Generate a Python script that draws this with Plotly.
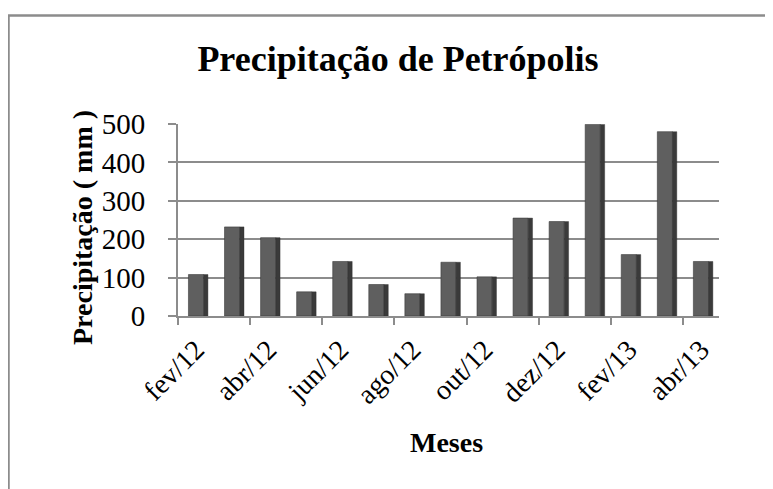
import plotly.graph_objects as go

months = ["fev/12", "mar/12", "abr/12", "mai/12", "jun/12", "jul/12", "ago/12", "set/12",
          "out/12", "nov/12", "dez/12", "jan/13", "fev/13", "mar/13", "abr/13"]
precip = [108, 232, 204, 63, 142, 82, 58, 140, 102, 255, 246, 499, 160, 480, 142]
tick_labels = months[::2]
y_ticks = [0, 100, 200, 300, 400, 500]

OFF = 8  # default page body margin
W, H = 773 - OFF, 489 - OFF
# plot area in screen pixels
L, R, T, B = 178 - OFF, 719 - OFF, 124 - OFF, 316 - OFF

def px_x(p):
    return (p - OFF - L) / (R - L)

def px_y(p):
    return (B - (p - OFF)) / (B - T)

SERIF = "Liberation Serif"
GRID = "#8c8c8c"

fig = go.Figure()
fig.add_trace(go.Bar(x=months, y=precip, width=0.42, offset=-0.21,
                     marker=dict(color="#5f5f5f", line=dict(color="#3a3a3a", width=0.6)),
                     showlegend=False, hoverinfo="x+y"))
fig.add_trace(go.Bar(x=months, y=precip, width=0.12, offset=0.21,
                     marker=dict(color="#3a3a3a", line=dict(color="#2e2e2e", width=0.4)),
                     showlegend=False, hoverinfo="skip"))

fig.update_layout(
    template="none",
    width=W, height=H,
    margin=dict(l=L, r=W - R, t=T, b=H - B, pad=0),
    paper_bgcolor="white", plot_bgcolor="white",
    barmode="overlay",
    title=dict(text="<b>Precipitação de Petrópolis</b>", x=(398 - OFF) / W, y=1 - (58 - OFF) / H,
               xanchor="center", yanchor="middle", xref="container", yref="container",
               font=dict(family=SERIF, size=36, color="black")),
    xaxis=dict(type="category", categoryorder="array", categoryarray=months,
               range=[-0.5, 14.5], tickvals=tick_labels, ticktext=tick_labels,
               tickangle=-45, ticks="", showgrid=False, automargin=False,
               showline=True, linecolor=GRID, linewidth=2, ticklabelstandoff=4,
               tickfont=dict(family=SERIF, size=28, color="black")),
    xaxis2=dict(overlaying="x", range=[-0.5, 14.5], tickvals=[-0.5 + 2 * k for k in range(8)],
                ticks="outside", ticklen=8, tickwidth=2, tickcolor=GRID, automargin=False,
                showticklabels=False, showgrid=False, zeroline=False, side="bottom"),
    yaxis=dict(range=[0, 500], tickvals=y_ticks, ticks="outside", ticklen=8,
               tickwidth=2, tickcolor=GRID, showgrid=True, gridcolor=GRID, gridwidth=2,
               showline=True, linecolor=GRID, linewidth=2, zeroline=False, automargin=False,
               ticklabelstandoff=17,
               tickfont=dict(family=SERIF, size=29, color="black")),
    annotations=[
        dict(text="<b>Precipitação ( mm )</b>", x=px_x(82), y=px_y(228), xref="paper", yref="paper",
             textangle=-90, showarrow=False, xanchor="center", yanchor="middle",
             font=dict(family=SERIF, size=28, color="black")),
        dict(text="<b>Meses</b>", x=px_x(446), y=px_y(442), xref="paper", yref="paper",
             showarrow=False, xanchor="center", yanchor="middle",
             font=dict(family=SERIF, size=28, color="black")),
    ],
    shapes=[dict(type="rect", xref="paper", yref="paper",
                 x0=px_x(8.5), x1=px_x(800), y0=px_y(15.5), y1=px_y(520),
                 line=dict(color="#8c8c8c", width=2.5), layer="below")],
)

fig.add_trace(go.Scatter(x=[None], y=[None], xaxis="x2", showlegend=False, hoverinfo="skip"))

fig.write_html("out.html")
